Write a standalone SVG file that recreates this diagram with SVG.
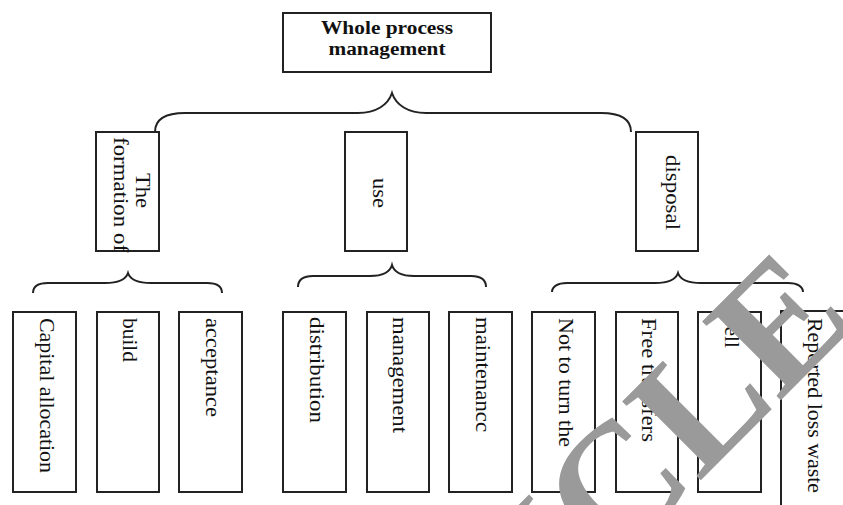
<svg xmlns="http://www.w3.org/2000/svg" width="843" height="505" viewBox="0 0 843 505">
<defs>
<style>
.box{fill:#fff;stroke:#222;stroke-width:2}
.br{fill:none;stroke:#222;stroke-width:2}
.t{font-family:"Liberation Serif","Times New Roman",serif;font-size:21px;fill:#111}
.tb{font-family:"Liberation Serif","Times New Roman",serif;font-size:18px;font-weight:bold;fill:#111}
.wm{font-family:"Liberation Serif","Times New Roman",serif;font-size:170px;font-weight:bold;fill:#9a9a9a}
</style>
</defs>
<rect width="843" height="505" fill="#fff"/>
<g id="connectors">
<path class="br" d="M155,132 C155,120 165,113 185,113 L358,113 C376,113 388,105 392,93 C396,105 408,113 426,113 L601,113 C621,113 631,120 631,132"/>
<path class="br" d="M33,293 C33,287 38,283 48,283 L105,283 C118,283 126,279 128,273 C130,279 138,283 151,283 L207,283 C217,283 222,287 222,293"/>
<path class="br" d="M298,287 C298,280 303,276 313,276 L370,276 C383,276 390,272 392,265 C394,272 401,276 414,276 L471,276 C481,276 486,280 486,287"/>
<path class="br" d="M552,292 C552,287 557,283 567,283 L655,283 C668,283 676,279 678,273 C680,279 688,283 701,283 L788,283 C798,283 803,287 803,292"/>
</g>
<g id="root">
<rect class="box" x="283" y="13" width="208" height="59"/>
<text class="tb" x="387" y="34" text-anchor="middle" textLength="132" lengthAdjust="spacingAndGlyphs">Whole process</text>
<text class="tb" x="387" y="55" text-anchor="middle" textLength="117" lengthAdjust="spacingAndGlyphs">management</text>
</g>
<g id="formation">
<rect class="box" x="96" y="132" width="63" height="119"/>
<text class="t" transform="translate(136,190.5) rotate(90)" text-anchor="middle" textLength="35" lengthAdjust="spacingAndGlyphs">The</text>
<text class="t" transform="translate(114,194.5) rotate(90)" text-anchor="middle" textLength="115" lengthAdjust="spacingAndGlyphs">formation of</text>
</g>
<g id="use">
<rect class="box" x="345" y="132" width="62" height="119"/>
<text class="t" transform="translate(373,193) rotate(90)" text-anchor="middle" textLength="30" lengthAdjust="spacingAndGlyphs">use</text>
</g>
<g id="disposal">
<rect class="box" x="636" y="132" width="62" height="119"/>
<text class="t" transform="translate(666,192.5) rotate(90)" text-anchor="middle" textLength="75" lengthAdjust="spacingAndGlyphs">disposal</text>
</g>
<g id="capital">
<rect class="box" x="13" y="312" width="63" height="180"/>
<text class="t" transform="translate(40,318) rotate(90)" textLength="155" lengthAdjust="spacingAndGlyphs">Capital allocation</text>
</g>
<g id="build">
<rect class="box" x="97" y="312" width="62" height="180"/>
<text class="t" transform="translate(123,318) rotate(90)" textLength="44" lengthAdjust="spacingAndGlyphs">build</text>
</g>
<g id="acceptance">
<rect class="box" x="179" y="312" width="63" height="180"/>
<text class="t" transform="translate(206,318) rotate(90)" textLength="99" lengthAdjust="spacingAndGlyphs">acceptance</text>
</g>
<g id="distribution">
<rect class="box" x="283" y="312" width="63" height="180"/>
<text class="t" transform="translate(310,317) rotate(90)" textLength="106" lengthAdjust="spacingAndGlyphs">distribution</text>
</g>
<g id="management">
<rect class="box" x="367" y="312" width="62" height="180"/>
<text class="t" transform="translate(393,317) rotate(90)" textLength="116" lengthAdjust="spacingAndGlyphs">management</text>
</g>
<g id="maintenance">
<rect class="box" x="449" y="312" width="63" height="180"/>
<text class="t" transform="translate(476,317) rotate(90)" textLength="115" lengthAdjust="spacingAndGlyphs">maintenancc</text>
</g>
<g id="notturn">
<rect class="box" x="532" y="312" width="63" height="180"/>
<text class="t" transform="translate(559,318) rotate(90)" textLength="129" lengthAdjust="spacingAndGlyphs">Not to turn the</text>
</g>
<g id="free">
<rect class="box" x="616" y="312" width="62" height="180"/>
<text class="t" transform="translate(642,318) rotate(90)" textLength="124" lengthAdjust="spacingAndGlyphs">Free transfers</text>
</g>
<g id="sell">
<rect class="box" x="698" y="312" width="63" height="180"/>
<text class="t" transform="translate(725,318) rotate(90)" textLength="30" lengthAdjust="spacingAndGlyphs">sell</text>
</g>
<g id="reported">
<rect class="box" x="781" y="311" width="100" height="250"/>
<text class="t" transform="translate(808,318) rotate(90)" textLength="175" lengthAdjust="spacingAndGlyphs">Reported loss waste</text>
</g>
<g id="watermark">
<text class="wm" transform="translate(703,478) rotate(-45)" x="-548" y="0">ARTICLE</text>
</g>
</svg>
